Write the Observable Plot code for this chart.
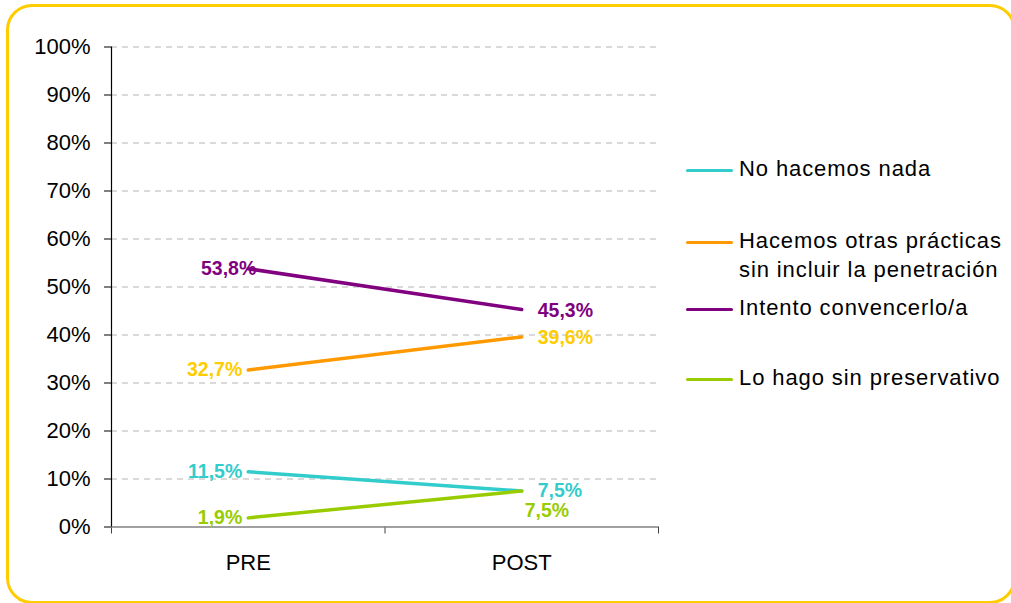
<!DOCTYPE html>
<html>
<head>
<meta charset="utf-8">
<script src="https://cdn.jsdelivr.net/npm/d3@7"></script>
<script src="https://cdn.jsdelivr.net/npm/@observablehq/plot@0.6"></script>
<style>
  html, body { margin: 0; padding: 0; background: #fff; overflow: hidden; }
  #wrap { position: relative; width: 1011px; height: 603px; overflow: hidden; font-family: "Liberation Sans", Arial, sans-serif; }
  #frame { position: absolute; left: 6px; top: 4px; width: 1010px; height: 600px; border: 3px solid #FFCC00; border-radius: 26px; box-sizing: border-box; }
  #chart { position: absolute; left: 0; top: 0; }
  .leg { position: absolute; left: 686px; font-size: 22px; letter-spacing: 0.9px; color: #000; line-height: 29px; }
  .leg .sw { position: absolute; left: 0; width: 47px; height: 3px; border-radius: 2px; }
  .leg .tx { position: absolute; left: 53px; white-space: nowrap; }
</style>
</head>
<body>
<div id="wrap">
  <div id="frame"></div>
  <div id="chart"></div>
  <div id="legend"></div>
</div>
<script>
// ---- data ----
const categories = ["PRE", "POST"];
const seriesNames = [
  "No hacemos nada",
  "Hacemos otras prácticas sin incluir la penetración",
  "Intento convencerlo/a",
  "Lo hago sin preservativo"
];
const noHacemosNada = [11.5, 7.5];
const otrasPracticas = [32.7, 39.6];
const intentoConvencerlo = [53.8, 45.3];
const sinPreservativo = [1.9, 7.5];
const yTicks = [0, 10, 20, 30, 40, 50, 60, 70, 80, 90, 100];

// ---- styles ----
const lineColors = ["#33CCCC", "#FF9900", "#800080", "#99CC00"];
const labelColors = ["#33CCCC", "#FFCC00", "#800080", "#99CC00"];

const seriesValues = [noHacemosNada, otrasPracticas, intentoConvencerlo, sinPreservativo];
const fmt = v => v.toFixed(1).replace(".", ",") + "%";

// position x: categories at band centres of a [0, n] linear scale
const rows = [];
seriesValues.forEach((vals, s) => {
  vals.forEach((v, i) => rows.push({series: seriesNames[s], s, cat: categories[i], x: i + 0.5, value: v, label: fmt(v)}));
});

const marks = [
  Plot.gridY(yTicks.filter(d => d > 0), {stroke: "#b4b4b4", strokeOpacity: 1, strokeDasharray: "6,5"}),
  Plot.axisY(yTicks, {tickFormat: d => d + "%", tickSize: 7, tickPadding: 14, fontSize: 22, label: null, stroke: "#000"}),
  Plot.axisX(d3.range(categories.length + 1), {tickFormat: () => "", tickSize: 7, label: null, stroke: "#404040"}),
  Plot.axisX(categories.map((c, i) => i + 0.5), {tickFormat: d => categories[Math.floor(d)], tickSize: 0, tickPadding: 27, fontSize: 22, label: null}),
  Plot.ruleY([0], {stroke: "#808080", strokeWidth: 1.5}),
  Plot.ruleX([0], {y1: 0, y2: 100, stroke: "#000", strokeWidth: 1.2})
];

seriesNames.forEach((name, s) => {
  const data = rows.filter(r => r.s === s);
  marks.push(Plot.line(data, {x: "x", y: "value", stroke: lineColors[s], strokeWidth: 3.5, strokeLinecap: "round"}));
  const pre = data.filter(r => r.cat === categories[0]);
  const post = data.filter(r => r.cat === categories[1]);
  // label offsets (layout)
  const preDx = s === 2 ? 8 : -6;
  const postDx = s === 3 ? 3 : 16;
  const postDy = s === 3 ? 20 : (s === 0 ? 0 : 1);
  marks.push(Plot.text(pre, {x: "x", y: "value", text: "label", fill: labelColors[s], textAnchor: "end", dx: preDx, fontSize: 19.5, fontWeight: "bold"}));
  marks.push(Plot.text(post, {x: "x", y: "value", text: "label", fill: labelColors[s], textAnchor: "start", dx: postDx, dy: postDy, fontSize: 19.5, fontWeight: "bold"}));
});

const chart = Plot.plot({
  width: 1011,
  height: 603,
  marginLeft: 111,
  marginRight: 353,
  marginTop: 46.5,
  marginBottom: 76.5,
  style: {background: "transparent", fontFamily: "'Liberation Sans', Arial, sans-serif", color: "#000", overflow: "visible"},
  x: {type: "linear", domain: [0, categories.length], axis: null},
  y: {type: "linear", domain: [0, 100], axis: null},
  marks
});
document.getElementById("chart").appendChild(chart);

// ---- legend ----
const legendTops = [168, 240, 307, 377]; // text centre y of each entry
const legend = document.getElementById("legend");
seriesNames.forEach((name, s) => {
  const item = document.createElement("div");
  item.className = "leg";
  item.style.top = (legendTops[s] - 14.5) + "px";
  const sw = document.createElement("div");
  sw.className = "sw";
  sw.style.background = lineColors[s];
  sw.style.top = "15px";
  const tx = document.createElement("div");
  tx.className = "tx";
  if (s === 1) {
    tx.innerHTML = "Hacemos otras prácticas<br>sin incluir la penetración";
  } else {
    tx.textContent = name;
  }
  item.appendChild(sw);
  item.appendChild(tx);
  legend.appendChild(item);
});
</script>
</body>
</html>
